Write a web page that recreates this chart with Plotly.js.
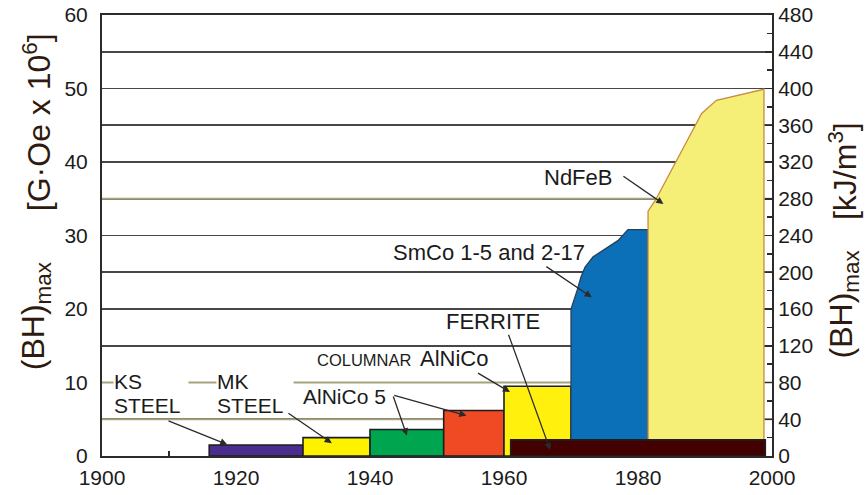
<!DOCTYPE html>
<html>
<head>
<meta charset="utf-8">
<script src="https://cdn.plot.ly/plotly-3.0.1.min.js"></script>
<style>
  html, body { margin: 0; padding: 0; background: #ffffff; }
  #chart { width: 867px; height: 495px; }
</style>
</head>
<body>
<div id="chart"></div>
<script>
// Step-wise (BH)max records of permanent magnet families, MGOe
const barNames  = ['KS STEEL', 'MK STEEL', 'AlNiCo 5', 'AlNiCo 5 (improved)', 'COLUMNAR AlNiCo', 'FERRITE'];
const barStart  = [1916, 1930, 1940, 1951, 1960, 1961];
const barEnd    = [1930, 1940, 1951, 1960, 1970, 1999];
const barBH     = [1.5, 2.5, 3.6, 6.2, 9.5, 2.2];

// SmCo 1-5 and 2-17 growth curve
const smcoYears = [1970, 1970.9, 1971.5, 1972.1, 1972.8, 1973.3, 1977, 1978.5, 1981.5];
const smcoBH    = [20, 22.5, 24.4, 25.7, 26.6, 27.1, 29.3, 30.8, 30.8];

// NdFeB growth curve
const ndfebYears = [1981.5, 1982.6, 1985.5, 1987.3, 1989.5, 1991.7, 1998.8];
const ndfebBH    = [33.3, 34.8, 39.8, 43.0, 46.6, 48.4, 49.9];

// Axis tick labels
const yearTicks  = [1900, 1920, 1940, 1960, 1980, 2000];
const mgoeTicks  = [0, 10, 20, 30, 40, 50, 60];
const kjTicks    = [0, 40, 80, 120, 160, 200, 240, 280, 320, 360, 400, 440, 480];
const KJ_PER_MGOE = 8;   // 1 MGOe ≈ 7.96 kJ/m³

// Styling
const barFill = ['#4b2d90', '#fff200', '#00a54f', '#ef4a24', '#fff10d', '#430000'];
const edge = '#1e1e1e';
const FONT = 'Liberation Sans, Arial, sans-serif';
const INK = '#1b1b1b';
const TITLE_INK = '#2e1a0e';
const OLIVE = '#a4a37c';
const GRID = '#474747';

function rectTrace(i) {
  const s = barStart[i], e = barEnd[i], v = barBH[i];
  return {
    type: 'scatter', mode: 'lines', name: barNames[i],
    x: [s, s, e, e, s], y: [0, v, v, 0, 0],
    fill: 'toself', fillcolor: barFill[i],
    line: { color: edge, width: 1.6 },
    hoverinfo: 'name', showlegend: false
  };
}

function curveTrace(name, xs, ys, fill, lineColor) {
  const x = [xs[0]].concat(xs, [xs[xs.length - 1], xs[0]]);
  const y = [0].concat(ys, [0, 0]);
  return {
    type: 'scatter', mode: 'lines', name: name, x: x, y: y,
    fill: 'toself', fillcolor: fill,
    line: { color: lineColor, width: 1.3 },
    hoverinfo: 'name', showlegend: false
  };
}

const traces = [];
for (let i = 0; i < 5; i++) traces.push(rectTrace(i));
traces.push(curveTrace('SmCo 1-5 and 2-17', smcoYears, smcoBH, '#0c70b8', '#27405a'));
traces.push(curveTrace('NdFeB', ndfebYears, ndfebBH, '#f5ef78', '#c98a44'));
traces.push(rectTrace(5));
// NdFeB envelope in kJ/m³ on the secondary axis (transparent; keeps the right scale active)
traces.push({
  type: 'scatter', mode: 'lines', name: 'NdFeB (kJ/m³)', yaxis: 'y2',
  x: ndfebYears, y: ndfebBH.map(v => v * KJ_PER_MGOE),
  line: { color: 'rgba(0,0,0,0)', width: 0 },
  hoverinfo: 'skip', showlegend: false
});

// Text labels (data coordinates, left aligned)
function label(text, x, y, size, extra) {
  return Object.assign({
    text: text, x: x, y: y, xref: 'x', yref: 'y',
    xanchor: 'left', yanchor: 'middle', showarrow: false,
    font: { family: FONT, size: size, color: INK }
  }, extra || {});
}
// Pointer arrows: tail (ax, ay) -> head (x, y)
function pointer(ax, ay, x, y) {
  return {
    text: '', x: x, y: y, xref: 'x', yref: 'y',
    ax: ax, ay: ay, axref: 'x', ayref: 'y',
    showarrow: true, arrowhead: 2, arrowsize: 1.1, arrowwidth: 1.3,
    arrowcolor: '#2a2a2a', standoff: 0, startstandoff: 0
  };
}
function axisTitle(text, xp, yp) {
  return {
    text: text, x: xp, y: yp, xref: 'paper', yref: 'paper',
    xanchor: 'center', yanchor: 'middle', showarrow: false, textangle: -90,
    font: { family: FONT, size: 32, color: TITLE_INK }
  };
}

const annotations = [
  label('KS', 1901.6, 10.07, 21, { bgcolor: '#ffffff', width: 74, align: 'left', borderpad: 0 }),
  label('STEEL', 1901.6, 6.9, 21, { bgcolor: '#ffffff', width: 74, align: 'left', borderpad: 0 }),
  label('MK', 1917.0, 10.07, 21, { bgcolor: '#ffffff', width: 76, align: 'left', borderpad: 0 }),
  label('STEEL', 1917.0, 6.9, 21, { bgcolor: '#ffffff', width: 76, align: 'left', borderpad: 0 }),
  label('AlNiCo 5', 1929.7, 8.03, 21),
  label('COLUMNAR', 1931.8, 13.1, 16.5),
  label('AlNiCo', 1947.1, 13.25, 22),
  label('FERRITE', 1951.1, 18.3, 22),
  label('SmCo 1-5 and 2-17', 1943.1, 27.75, 22),
  label('NdFeB', 1965.7, 37.9, 22),

  pointer(1909.7, 4.86, 1918.7, 1.55),
  pointer(1927.6, 5.95, 1934.3, 1.75),
  pointer(1943.4, 8.3, 1945.5, 2.8),
  pointer(1943.4, 8.3, 1954.4, 5.5),
  pointer(1955.9, 11.4, 1960.9, 8.7),
  pointer(1960.6, 16.7, 1966.9, 0.8),
  pointer(1966.1, 25.9, 1973.1, 21.6),
  pointer(1977.6, 38.2, 1983.8, 34.3),

  axisTitle('(BH)<sub>max</sub>', -0.1, 0.317),
  axisTitle('[G\u00B7Oe x 10<sup>6</sup>]', -0.097, 0.757),
  axisTitle('(BH)<sub>max</sub>', 1.107, 0.343),
  axisTitle('[kJ/m<sup>3</sup>]', 1.105, 0.647)
];

// Olive reference lines drawn between the grid and the traces
const shapes = [5, 10, 35].map(v => ({
  type: 'line', xref: 'x', yref: 'y', x0: 1900, x1: 2000, y0: v, y1: v,
  line: { color: OLIVE, width: 1.8 }, layer: 'between'
}));

const layout = {
  width: 867, height: 495,
  margin: { l: 102, r: 95, t: 15, b: 39, pad: 0 },
  paper_bgcolor: '#ffffff', plot_bgcolor: '#ffffff',
  font: { family: FONT, size: 21, color: INK },
  showlegend: false,
  xaxis: {
    range: [1900, 2000], tickvals: yearTicks, ticktext: yearTicks.map(String),
    showgrid: false, zeroline: false,
    showline: true, linecolor: '#2b2b2b', linewidth: 2, mirror: true,
    ticks: '', layer: 'below traces',
    minor: { tickvals: [1910], ticks: 'inside', ticklen: 5, tickcolor: '#2b2b2b', tickwidth: 1.5 },
    tickfont: { family: FONT, size: 21, color: INK },
    ticklabelstandoff: 2
  },
  yaxis: {
    range: [0, 60], tickvals: mgoeTicks, ticktext: mgoeTicks.map(String),
    showgrid: true, gridcolor: GRID, gridwidth: 1.8,
    minor: { dtick: 5, showgrid: true, gridcolor: GRID, gridwidth: 1.8 },
    zeroline: false, showline: true, linecolor: '#2b2b2b', linewidth: 2,
    ticks: '', layer: 'below traces',
    tickfont: { family: FONT, size: 21, color: INK },
    ticklabelstandoff: 8
  },
  yaxis2: {
    overlaying: 'y', side: 'right', anchor: 'x',
    range: [0, 480], tickvals: kjTicks, ticktext: kjTicks.map(String),
    showgrid: false, zeroline: false,
    showline: true, linecolor: '#2b2b2b', linewidth: 2,
    ticks: 'inside', ticklen: 7, tickcolor: '#2b2b2b', tickwidth: 1.5,
    minor: { dtick: 20, ticks: 'inside', ticklen: 5, tickcolor: '#2b2b2b', tickwidth: 1.3 },
    layer: 'below traces',
    tickfont: { family: FONT, size: 21, color: INK },
    ticklabelstandoff: 0
  },
  shapes: shapes,
  annotations: annotations
};

Plotly.newPlot('chart', traces, layout, { staticPlot: true, displayModeBar: false });
</script>
</body>
</html>
